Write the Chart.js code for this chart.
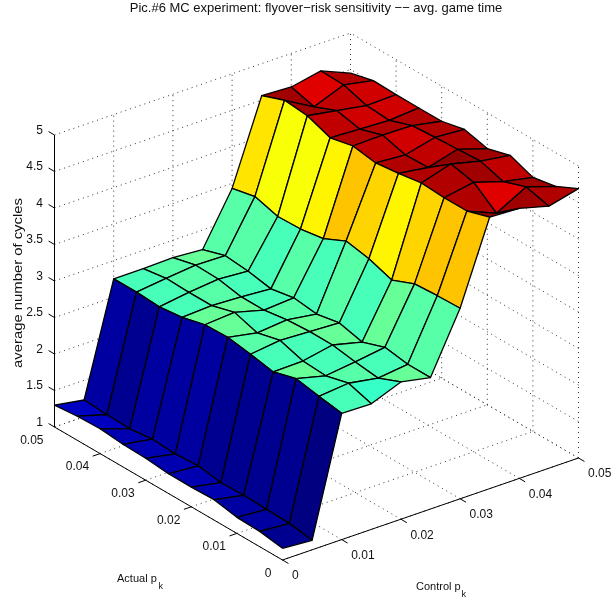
<!DOCTYPE html>
<html>
<head>
<meta charset="utf-8">
<title>Pic.#6 MC experiment</title>
<script src="https://cdn.jsdelivr.net/npm/chart.js@4"></script>
<style>
  html, body { margin: 0; padding: 0; background: #fff; }
  #wrap { width: 612px; height: 602px; }
</style>
</head>
<body>
<div id="wrap"><canvas id="surface" width="612" height="602"></canvas></div>
<script>
const titleText = 'Pic.#6 MC experiment: flyover\u2212risk sensitivity \u2212\u2212 avg. game time';
const zAxisTitle = 'average number of cycles';

const controlGrid = [0, 0.005, 0.01, 0.015, 0.02, 0.025, 0.03, 0.035, 0.04, 0.045, 0.05];
const actualGrid = [0, 0.005, 0.01, 0.015, 0.02, 0.025, 0.03, 0.035, 0.04, 0.045, 0.05];

const planeTicks = [0, 0.01, 0.02, 0.03, 0.04, 0.05];
const zTicks = [1, 1.5, 2, 2.5, 3, 3.5, 4, 4.5, 5];

// average cycles, one array per control p_k, entries run over actual p_k = 0 .. 0.05
const cyclesC000 = [1.16, 1.21, 1.22, 1.28, 1.27, 1.27, 1.30, 1.31, 1.34, 1.33, 1.30];
const cyclesC005 = [1.13, 1.18, 1.19, 1.20, 1.19, 1.24, 1.22, 1.24, 1.20, 1.21, 1.23];
const cyclesC010 = [2.73, 2.78, 2.84, 2.75, 2.81, 2.86, 2.85, 2.77, 2.73, 2.75, 2.75];
const cyclesC015 = [2.72, 2.82, 2.74, 2.76, 2.86, 2.78, 2.88, 2.79, 2.79, 2.80, 2.75];
const cyclesC020 = [2.88, 2.75, 2.79, 2.84, 2.84, 2.82, 2.77, 2.77, 2.83, 2.84, 2.76];
const cyclesC025 = [2.80, 2.80, 2.85, 2.74, 2.82, 2.76, 2.80, 2.74, 2.80, 2.83, 2.73];
const cyclesC030 = [3.61, 3.60, 3.58, 3.45, 3.56, 3.62, 3.47, 3.42, 3.41, 3.50, 3.43];
const cyclesC035 = [4.72, 4.62, 4.62, 4.64, 4.59, 4.55, 4.60, 4.53, 4.65, 4.68, 4.56];
const cyclesC040 = [4.70, 4.45, 4.69, 4.76, 4.53, 4.52, 4.61, 4.51, 4.58, 4.45, 4.54];
const cyclesC045 = [4.59, 4.67, 4.56, 4.66, 4.64, 4.62, 4.60, 4.49, 4.51, 4.61, 4.62];
const cyclesC050 = [4.69, 4.54, 4.48, 4.60, 4.51, 4.59, 4.52, 4.52, 4.52, 4.53, 4.45];

const cycles = [cyclesC000, cyclesC005, cyclesC010, cyclesC015, cyclesC020, cyclesC025,
                cyclesC030, cyclesC035, cyclesC040, cyclesC045, cyclesC050];

// view of the box: where the corner sits and how far each axis runs, in scale units
const view = {
    x0: 282.5, y0: 560,
    controlX: 5920, controlY: -2040,
    actualX: -4560, actualY: -2660,
    zY: -73
};

function project(c, a, z) {
    return {
        x: view.x0 + view.controlX * c + view.actualX * a,
        y: view.y0 + view.controlY * c + view.actualY * a + view.zY * (z - 1)
    };
}

// jet colormap, 64 levels like matlab
function jet(z) {
    let t = (z - 1.09) / (4.82 - 1.09);
    t = Math.min(63, Math.floor(Math.max(0, t) * 64)) / 63;
    let ramp = function (v) { return Math.max(0, Math.min(1, v)); };
    let r = ramp(Math.min(4 * t - 1.5, -4 * t + 4.5));
    let g = ramp(Math.min(4 * t - 0.5, -4 * t + 3.5));
    let b = ramp(Math.min(4 * t + 0.5, -4 * t + 2.5));
    return 'rgb(' + Math.round(r * 255) + ',' + Math.round(g * 255) + ',' + Math.round(b * 255) + ')';
}

function lineSet(points, dash) {
    return {
        data: points,
        showLine: true,
        fill: false,
        borderColor: dash ? '#333' : '#000',
        borderWidth: 1,
        borderDash: dash ? [1, 4] : [],
        pointRadius: 0,
        tension: 0
    };
}

function gridPoint(i, j) {
    return project(controlGrid[i], actualGrid[j], cycles[i][j]);
}

let datasets = [];

// surface, nearest face first because chart.js paints the first dataset last
for (let i = 0; i < controlGrid.length - 1; i++) {
    for (let j = 0; j < actualGrid.length - 1; j++) {
        datasets.push({
            data: [gridPoint(i, j), gridPoint(i + 1, j), gridPoint(i + 1, j + 1), gridPoint(i, j + 1), gridPoint(i, j)],
            showLine: true,
            fill: 'shape',
            backgroundColor: jet(cycles[i][j]),
            borderColor: '#000',
            borderWidth: 1.3,
            borderJoinStyle: 'round',
            pointRadius: 0,
            tension: 0
        });
    }
}

// axis lines and tick marks
datasets.push(lineSet([project(0, 0.05, 5), project(0, 0.05, 1), project(0, 0, 1), project(0.05, 0, 1)], false));
zTicks.forEach(function (z) {
    datasets.push(lineSet([project(0, 0.05, z), project(0, 0.0513, z)], false));
});
planeTicks.forEach(function (t) {
    datasets.push(lineSet([project(t, 0, 1), project(t, -0.0013, 1)], false));
    if (t > 0 && t < 0.05) {
        datasets.push(lineSet([project(0, t, 1), project(-0.00125, t, 1)], false));
    }
});

// dotted grid on the floor and the two back walls
planeTicks.forEach(function (t) {
    datasets.push(lineSet([project(t, 0, 1), project(t, 0.05, 1)], true));
    datasets.push(lineSet([project(0, t, 1), project(0.05, t, 1)], true));
    datasets.push(lineSet([project(t, 0.05, 1), project(t, 0.05, 5)], true));
    datasets.push(lineSet([project(0.05, t, 1), project(0.05, t, 5)], true));
});
zTicks.forEach(function (z) {
    datasets.push(lineSet([project(0, 0.05, z), project(0.05, 0.05, z)], true));
    datasets.push(lineSet([project(0.05, 0, z), project(0.05, 0.05, z)], true));
});

// matlab style text sits next to the projected axes, so it is drawn here
const axisText = {
    id: 'axisText',
    afterDatasetsDraw: function (chart) {
        let ctx = chart.ctx;
        let sx = chart.scales.x, sy = chart.scales.y;
        let put = function (label, x, y, align) {
            ctx.textAlign = align;
            ctx.fillText(label, sx.getPixelForValue(x), sy.getPixelForValue(y));
        };
        ctx.save();
        ctx.fillStyle = '#111';
        ctx.textBaseline = 'middle';
        ctx.font = '12px "Liberation Sans"';

        zTicks.forEach(function (z) {
            let p = project(0, 0.05, z);
            put(String(z), p.x - 11.5, p.y - 4.5, 'right');
        });
        planeTicks.forEach(function (t) {
            let p = project(0, t, 1);
            put(String(t), p.x - 11, p.y + 13.5, 'right');
            p = project(t, 0, 1);
            put(String(t), p.x + 9.5, p.y + 16, 'left');
        });

        ctx.font = '11px "Liberation Sans"';
        put('Actual p', 117, 579, 'left');
        put('Control p', 416, 587, 'left');
        ctx.font = '9px "Liberation Sans"';
        put('k', 158.5, 587, 'left');
        put('k', 461.5, 595, 'left');

        ctx.font = '13px "Liberation Sans"';
        put(titleText, 316, 8, 'center');

        // reference label runs longer than its glyph height, stretch along the text
        ctx.font = '12px "Liberation Sans"';
        ctx.translate(19, 283);
        ctx.rotate(-Math.PI / 2);
        ctx.scale(1.236, 1);
        ctx.textAlign = 'center';
        ctx.fillText(zAxisTitle, 0, 0);
        ctx.restore();
    }
};

new Chart(document.getElementById('surface'), {
    type: 'scatter',
    data: { datasets: datasets },
    options: {
        responsive: false,
        animation: false,
        layout: { padding: 0 },
        plugins: { legend: { display: false }, tooltip: { enabled: false } },
        scales: {
            x: { type: 'linear', display: false, min: 0, max: 612 },
            y: { type: 'linear', display: false, min: 0, max: 602, reverse: true }
        }
    },
    plugins: [axisText]
});
</script>
</body>
</html>
